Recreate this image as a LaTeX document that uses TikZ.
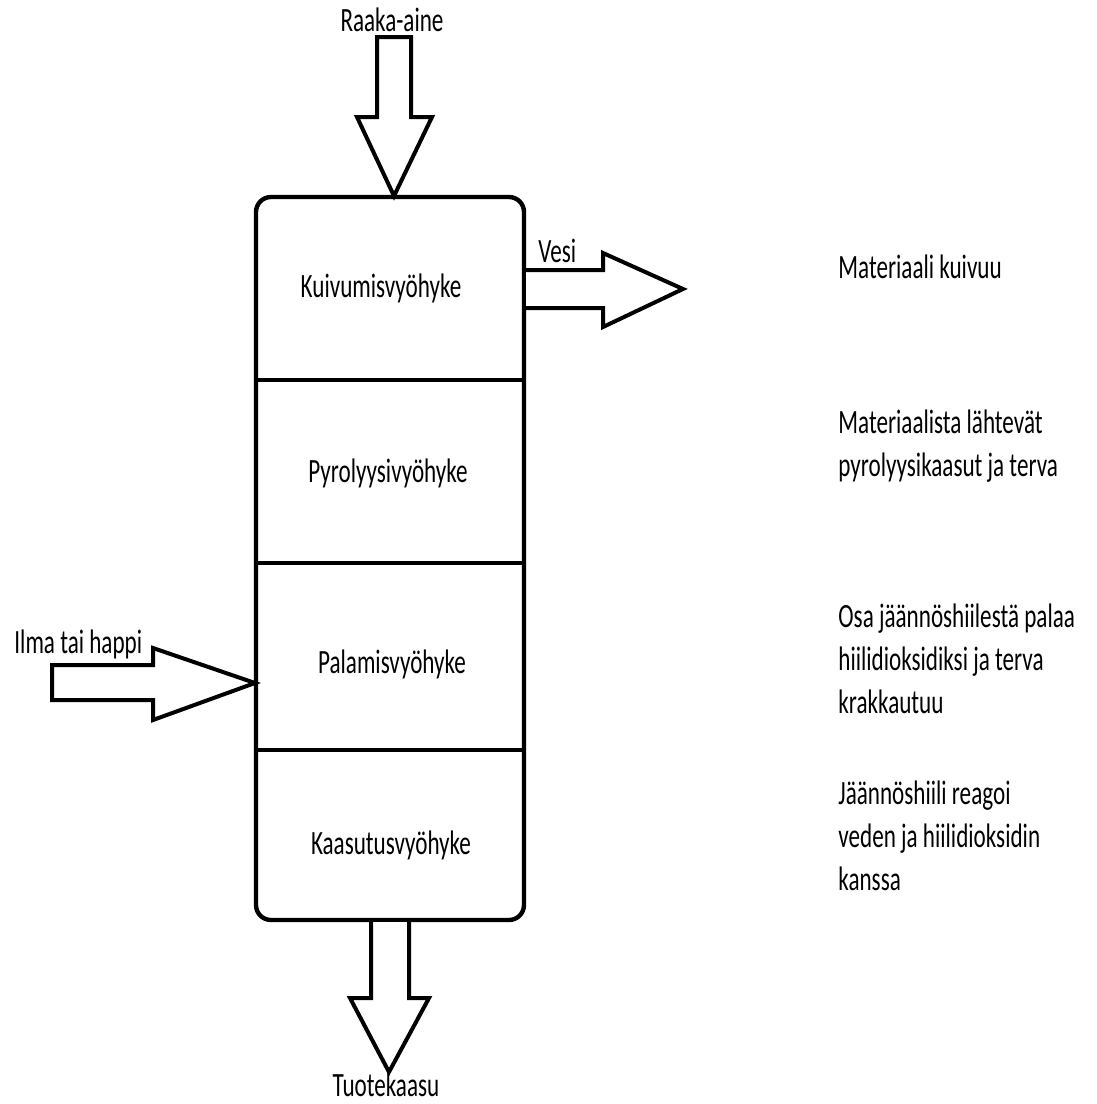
\documentclass[tikz,border=0pt]{standalone}
\usepackage{fontspec}
\setmainfont[FakeStretch=0.68]{Carlito}
\usetikzlibrary{positioning}
\tikzset{
  wall/.style={line width=2.2pt},
  flow/.style={draw,line width=2pt,fill=white},
  zone/.style={anchor=base,inner sep=0pt},
  lbl/.style={inner sep=0pt},
  note/.style={anchor=base west,align=left,inner sep=0pt}
}

\begin{document}
\begin{tikzpicture}[x=0.5pt,y=-0.5pt,font=\fontsize{17pt}{21.5pt}\selectfont]
  \useasboundingbox (0,0) rectangle (1097,1104);
  % reactor column
  \node[draw,wall,rounded corners=7.5pt,minimum width=134pt,minimum height=361.5pt,inner sep=0pt] (reactor) at (390,558.5) {};
  \foreach \y in {380,563,750}
    \draw[wall] (reactor.west |- 0,\y) -- (reactor.east |- 0,\y);
  \node[zone] (dry)  at (381,297) {Kuivumisvyöhyke};
  \node[zone] (pyro) at (388,482) {Pyrolyysivyöhyke};
  \node[zone] (burn) at (392,673) {Palamisvyöhyke};
  \node[zone] (gasi) at (391,854) {Kaasutusvyöhyke};

  % flows in and out
  \coordinate (feed) at (394,196);
  \coordinate (air)  at (255,683);
  \draw[flow] (377,37) -- (411,37) -- (411,117) -- (432,117) -- (feed)
    -- (357,117) -- (377,117) -- cycle;
  \draw[flow] (reactor.east |- 0,270) -- (603,270) -- (603,253) -- (683,289)
    -- (603,327) -- (603,308) -- (reactor.east |- 0,308);
  \draw[flow] (52,665) -- (153,665) -- (153,648) -- (air) -- (153,720)
    -- (153,700) -- (52,700) -- cycle;
  \draw[flow] (reactor.south -| 371,0) -- (371,998) -- (350,998) -- (389,1072)
    -- (429,998) -- (409,998) -- (reactor.south -| 409,0);
  \node[lbl,anchor=base] (raw) at (392,31) {Raaka-aine};
  \node[lbl,anchor=base west] (water) at (538,262) {Vesi};
  \node[lbl,anchor=base west] (oxid) at (14,653) {Ilma tai happi};
  \node[lbl,anchor=base] (prod) at (386,1096) {Tuotekaasu};

  % what happens in each zone (base = last line)
  \node[note] (n1) at (838,278) {Materiaali kuivuu};
  \node[note] (n2) at (838,476) {Materiaalista lähtevät\\pyrolyysikaasut ja terva};
  \node[note] (n3) at (838,713) {Osa jäännöshiilestä palaa\\hiilidioksidiksi ja terva\\krakkautuu};
  \node[note] (n4) at (838,890) {Jäännöshiili reagoi\\veden ja hiilidioksidin\\kanssa};
\end{tikzpicture}
\end{document}
